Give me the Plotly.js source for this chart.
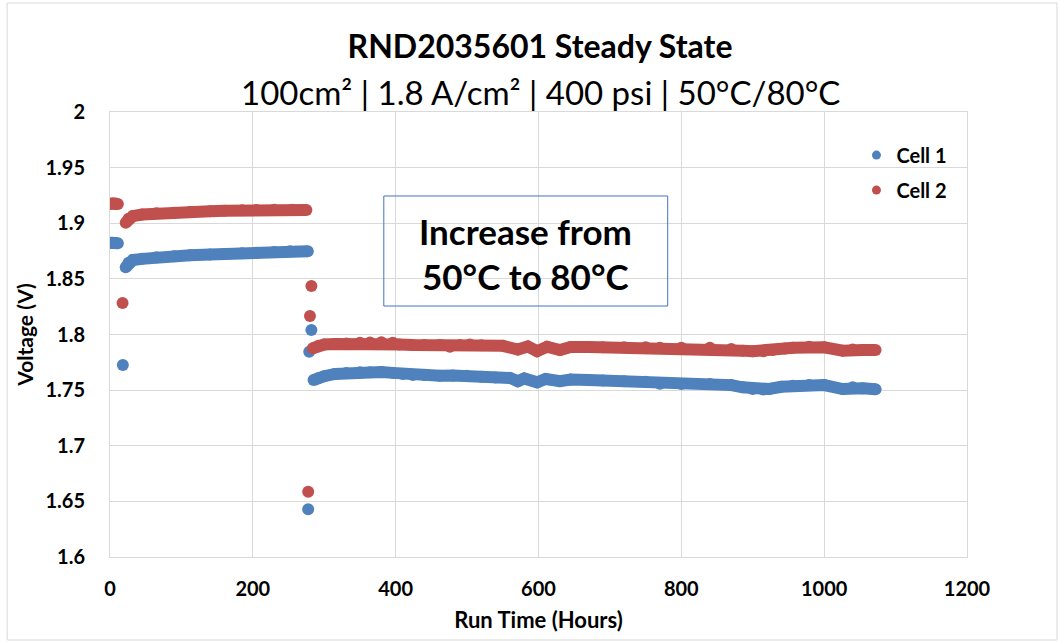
<!DOCTYPE html>
<html>
<head>
<meta charset="utf-8">
<script src="https://cdn.plot.ly/plotly-3.0.1.min.js"></script>
<style>html,body{margin:0;padding:0;background:#fff;}#chart{width:1061px;height:642px;}</style>
</head>
<body>
<div id="chart"></div>
<script>
// ---- Data ----
// null entries break the band between separate segments / isolated points
const cell1Hours = [0, 4, 8, 11, null, 18, null,
  22, 26, 32, 45, 65, 90, 112, 140, 160, 185, 205, 230, 252, 277, null,
  277.5, null, 279, null, 282, null,
  285, 292, 300, 315, 331, 350, 364, 380, 396, 410, 424, 440, 462, 480, 499, 520, 540, 560, 571, 580, 598, 610, 630, 645, 670, 690, 720, 750, 770, 800, 840, 870, 886, 900, 915, 923, 940, 956, 979, 1000, 1026, 1040, 1054, 1072];
const cell1Volts = [1.8825, 1.8825, 1.8822, 1.882, null, 1.7726, null,
  1.8604, 1.8645, 1.867, 1.868, 1.8694, 1.8703, 1.8712, 1.8718, 1.8724, 1.873, 1.8735, 1.8741, 1.8748, 1.8748, null,
  1.6429, null, 1.7845, null, 1.804, null,
  1.759, 1.761, 1.7625, 1.7645, 1.7655, 1.766, 1.766, 1.7662, 1.7655, 1.7645, 1.7636, 1.7635, 1.763, 1.7632, 1.7629, 1.762, 1.7613, 1.761, 1.758, 1.7605, 1.757, 1.760, 1.758, 1.7595, 1.759, 1.7587, 1.758, 1.7575, 1.7557, 1.7556, 1.7554, 1.7545, 1.7525, 1.751, 1.7505, 1.751, 1.753, 1.7539, 1.7546, 1.7545, 1.751, 1.7525, 1.7516, 1.7507];

const cell2Hours = [0, 4, 8, 11, null, 17.6, null,
  22, 26, 32, 45, 65, 90, 112, 140, 160, 185, 205, 230, 255, 275, null,
  277.5, null, 280, null, 282, null,
  284, 292, 300, 315, 331, 350, 364, 380, 396, 405, 424, 440, 462, 476, 490, 504, 520, 550, 571, 585, 598, 612, 630, 645, 670, 690, 720, 750, 770, 800, 840, 870, 886, 900, 915, 928, 945, 956, 979, 1000, 1026, 1040, 1054, 1072];
const cell2Volts = [1.9175, 1.918, 1.9178, 1.9172, null, 1.8283, null,
  1.9005, 1.904, 1.9065, 1.9078, 1.9089, 1.9095, 1.9101, 1.9107, 1.9113, 1.9117, 1.912, 1.9121, 1.9122, 1.912, null,
  1.6587, null, 1.8166, null, 1.8436, null,
  1.7876, 1.790, 1.791, 1.7915, 1.7918, 1.7925, 1.7928, 1.793, 1.7925, 1.791, 1.7905, 1.7905, 1.7905, 1.789, 1.7905, 1.791, 1.7903, 1.7898, 1.7865, 1.7893, 1.785, 1.789, 1.786, 1.7888, 1.7887, 1.7886, 1.7885, 1.7885, 1.7882, 1.7882, 1.788, 1.787, 1.7855, 1.785, 1.785, 1.786, 1.7875, 1.788, 1.789, 1.7885, 1.7855, 1.7865, 1.786, 1.786];

const seriesNames = ["Cell 1", "Cell 2"];
const xTicks = [0, 200, 400, 600, 800, 1000, 1200];
const xTickText = ["0", "200", "400", "600", "800", "1000", "1200"];
const yTicks = [1.6, 1.65, 1.7, 1.75, 1.8, 1.85, 1.9, 1.95, 2];
const yTickText = ["1.6", "1.65", "1.7", "1.75", "1.8", "1.85", "1.9", "1.95", "2"];
const titleText = "RND2035601 Steady State";
const subtitleText = "100cm² | 1.8 A/cm² | 400 psi | 50°C/80°C";
const xTitle = "Run Time (Hours)";
const yTitle = "Voltage (V)";
const noteLines = ["Increase from", "50°C to 80°C"];

// ---- Styling ----
const BLUE = "#4F81BD", RED = "#C0504D";
const FONT = "Lato, 'Open Sans', sans-serif";
const GRID = "#d9d9d9";
const bold = s => "<b>" + s + "</b>";

function band(x, y, color) {
  return {x: x, y: y, type: "scatter", mode: "lines+markers", connectgaps: false,
    line: {color: color, width: 12}, marker: {color: color, size: 12},
    showlegend: false, hoverinfo: "x+y"};
}
function legendItem(name, color, grp) {
  return {x: [null], y: [null], type: "scatter", mode: "markers", name: bold(name), legendgroup: grp,
    marker: {color: color, size: 9}, showlegend: true};
}

const data = [
  band(cell1Hours, cell1Volts, BLUE),
  band(cell2Hours, cell2Volts, RED),
  legendItem(seriesNames[0], BLUE, "a"),
  legendItem(seriesNames[1], RED, "b")
];

const layout = {
  width: 1061, height: 642,
  margin: {l: 110, r: 94, t: 112, b: 85},
  paper_bgcolor: "#fff", plot_bgcolor: "#fff",
  font: {family: FONT, color: "#000", size: 20},
  title: {text: bold(titleText), font: {family: FONT, size: 32, color: "#000"},
    x: 0.509, xref: "container", xanchor: "center", y: 1 - 47/642, yref: "container", yanchor: "middle"},
  xaxis: {range: [0, 1200], tickvals: xTicks, ticktext: xTickText.map(bold), showgrid: true, gridcolor: GRID, gridwidth: 1,
    zeroline: false, showline: true, linecolor: GRID, mirror: true, ticks: "", ticklabelstandoff: 14,
    tickfont: {family: FONT, size: 20, color: "#000"},
    title: {text: "<span style='font-size:22px'>" + bold(xTitle) + "</span>", font: {family: FONT, size: 22, color: "#000"}, standoff: 13}},
  yaxis: {range: [1.6, 2], tickvals: yTicks, ticktext: yTickText.map(bold), showgrid: true, gridcolor: GRID, gridwidth: 1,
    zeroline: false, showline: true, linecolor: GRID, mirror: true, ticks: "", ticklabelstandoff: 20,
    tickfont: {family: FONT, size: 20, color: "#000"},
    title: {text: "<span style='font-size:21px'>" + bold(yTitle) + "</span>", font: {family: FONT, size: 21, color: "#000"}, standoff: 6}},
  legend: {x: 0.871, y: 0.947, xanchor: "left", yanchor: "top", bgcolor: "rgba(0,0,0,0)",
    font: {family: FONT, size: 20, color: "#000"}, tracegroupgap: 6, itemclick: false},
  shapes: [
    {type: "rect", xref: "x", yref: "y", x0: 383.4, x1: 780.9, y0: 1.8256, y1: 1.9245,
      line: {color: "#4472C4", width: 1}, fillcolor: "rgba(0,0,0,0)", layer: "above"},
    {type: "rect", xref: "paper", yref: "paper", x0: -0.12, x1: 1.105, y0: -0.1865, y1: 1.245,
      line: {color: GRID, width: 1}, fillcolor: "rgba(0,0,0,0)"}
  ],
  annotations: [
    {xref: "paper", yref: "paper", x: 0.502, y: (557-92)/445, xanchor: "center", yanchor: "middle",
      text: subtitleText, showarrow: false, font: {family: FONT, size: 33, color: "#000"}},
    {xref: "x", yref: "y", x: 582, y: 1.893, xanchor: "center", yanchor: "middle",
      text: bold(noteLines[0]), showarrow: false, font: {family: FONT, size: 35, color: "#000"}},
    {xref: "x", yref: "y", x: 582, y: 1.8526, xanchor: "center", yanchor: "middle",
      text: bold(noteLines[1]), showarrow: false, font: {family: FONT, size: 35, color: "#000"}}
  ]
};

Plotly.newPlot("chart", data, layout, {staticPlot: true, displayModeBar: false});
</script>
</body>
</html>
